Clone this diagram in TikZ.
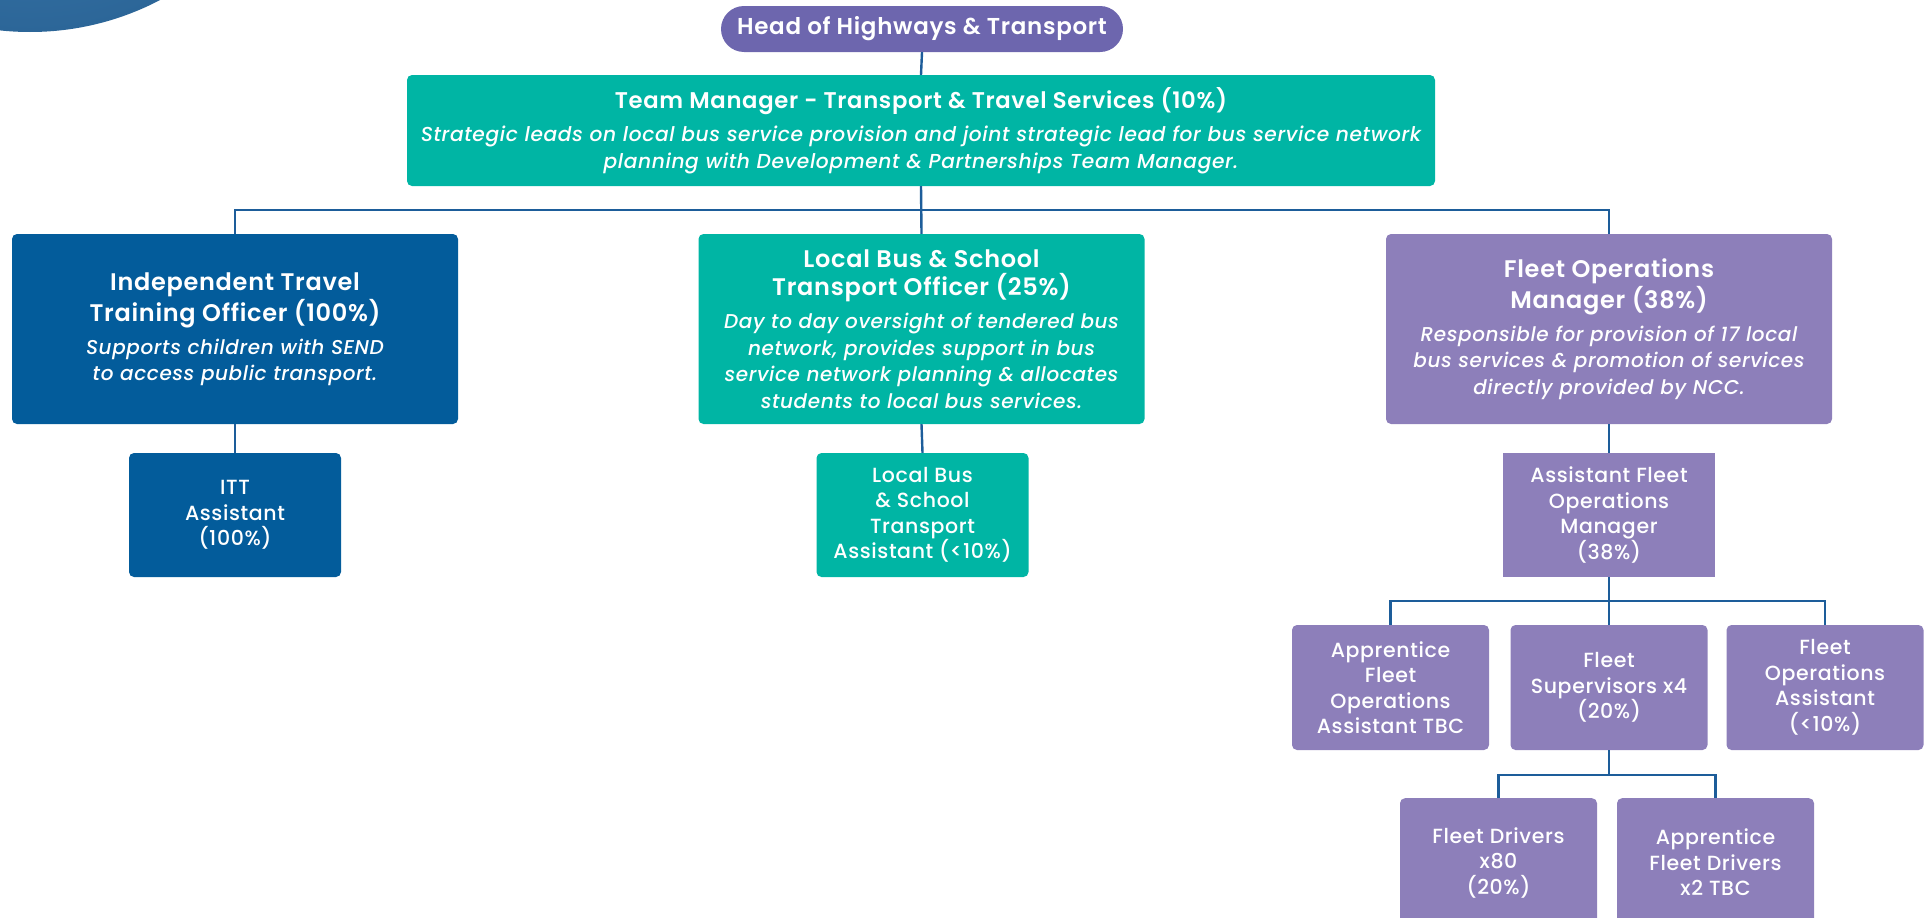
\documentclass[tikz,border=0pt]{standalone}
\usepackage{fontspec}
\setmainfont{Poppins}[UprightFont=* Medium, BoldFont=* SemiBold,
  ItalicFont=* Medium Italic, BoldItalicFont=* SemiBold Italic, LetterSpace=3]
\begin{document}
\definecolor{headpurple}{HTML}{6D66AE}
\definecolor{teal}{HTML}{00B5A4}
\definecolor{navy}{HTML}{035C9B}
\definecolor{lilac}{HTML}{8D7FBA}
\definecolor{linkblue}{HTML}{1D5D9A}
\definecolor{discA}{HTML}{4282B8}
\definecolor{discB}{HTML}{2C6698}
\begin{tikzpicture}[x=1pt,y=-1pt,
  box/.style={text=white, align=center, inner sep=0pt, rounded corners=5pt,
    font=\fontsize{20.5}{25.5}\selectfont},
  bigbox/.style={box, minimum width=446pt, minimum height=190pt,
    font=\fontsize{20}{26.5}\selectfont},
  smallbox/.style={box, minimum width=212pt, minimum height=124pt},
  leafbox/.style={box, minimum width=197pt, minimum height=125pt}]
\tikzset{link/.style={draw=linkblue, line width=2.4pt}}
\newcommand\roletitle[1]{{\fontsize{24}{28}\selectfont\bfseries #1}}
\newcommand\roledesc[1]{{\itshape #1}}
\useasboundingbox (0,0) rectangle (1930,918);
\clip (0,0) rectangle (1930,918);

% decorative disc in the corner
\shade[inner color=discA, outer color=discB] (30,-248) circle (280);

% head
\node[box, fill=headpurple, minimum width=402pt, minimum height=46pt, rounded corners=23pt,
  font=\fontsize{23}{26}\selectfont\bfseries] (head) at (922,29) {Head of Highways \& Transport};

% team manager
\node[box, fill=teal, minimum width=1028pt, minimum height=111pt,
  font=\fontsize{20.2}{27}\selectfont] (tm) at (921,130.5)
  {{\fontsize{22.7}{28}\selectfont\bfseries Team Manager - Transport \& Travel Services (10\%)}\\[6pt]
   \roledesc{Strategic leads on local bus service provision and joint strategic lead for bus service network}\\
   \roledesc{planning with Development \& Partnerships Team Manager.}};

% second level
\node[bigbox, fill=navy] (itto) at (235,329)
  {\roletitle{Independent Travel}\\[1.5pt]
   \roletitle{Training Officer (100\%)}\\[6.5pt]
   \roledesc{Supports children with SEND}\\
   \roledesc{to access public transport.}};
\node[bigbox, fill=teal] (lbo) at (921.5,329)
  {\roletitle{Local Bus \& School}\\[1.5pt]
   \roletitle{Transport Officer (25\%)}\\[6.5pt]
   \roledesc{Day to day oversight of tendered bus}\\
   \roledesc{network, provides support in bus}\\
   \roledesc{service network planning \& allocates}\\
   \roledesc{students to local bus services.}};
\node[bigbox, fill=lilac] (fom) at (1609,329)
  {\roletitle{Fleet Operations}\\[1.5pt]
   \roletitle{Manager (38\%)}\\[6.5pt]
   \roledesc{Responsible for provision of 17 local}\\
   \roledesc{bus services \& promotion of services}\\
   \roledesc{directly provided by NCC.}};

% third level
\node[smallbox, fill=navy] (itta) at (235,515) {ITT\\Assistant\\(100\%)};
\node[smallbox, fill=teal] (lba) at (922.5,515) {Local Bus\\\& School\\Transport\\Assistant (<10\%)};
\node[smallbox, fill=lilac, rounded corners=0pt] (afom) at (1609,515)
  {Assistant Fleet\\Operations\\Manager\\(38\%)};

% fleet teams
\node[leafbox, fill=lilac] (afoa) at (1390.5,687.5) {Apprentice\\Fleet\\Operations\\Assistant TBC};
\node[leafbox, fill=lilac] (fs) at (1609,687.5) {Fleet\\Supervisors x4\\(20\%)};
\node[leafbox, fill=lilac] (foa) at (1825,687.5) {Fleet\\Operations\\Assistant\\(<10\%)};
\node[leafbox, fill=lilac, anchor=north] (fd) at (1498.5,798) {\\[-6pt]Fleet Drivers\\x80\\(20\%)};
\node[leafbox, fill=lilac, anchor=north] (afd) at (1715.5,798) {\\[-6pt]Apprentice\\Fleet Drivers\\x2 TBC};

% reporting lines
\coordinate (b1) at (921,210);
\coordinate (b2) at (1609,601);
\coordinate (b3) at (1609,775);
\draw[link] (head.south) -- (tm.north);
\draw[link] (tm.south) -- (lbo.north);
\draw[link] (itto.north) |- (b1) -| (fom.north);
\draw[link] (itto.south) -- (itta.north);
\draw[link] (lbo.south) -- (lba.north);
\draw[link] (fom.south) -- (afom.north);
\draw[link] (afom.south) -- (fs.north);
\draw[link] (afoa.north) |- (b2) -| (foa.north);
\draw[link] (fs.south) -- (b3);
\draw[link] (fd.north) |- (b3) -| (afd.north);
\end{tikzpicture}
\end{document}
